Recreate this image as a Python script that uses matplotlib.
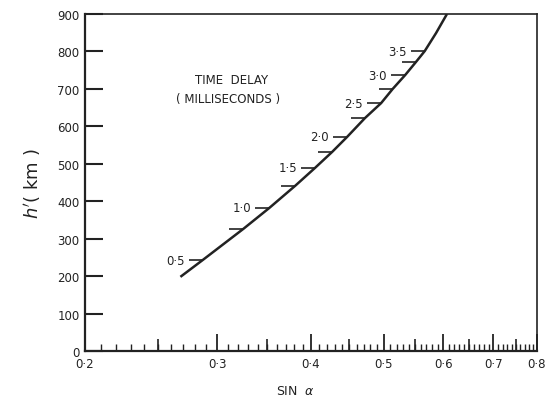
import matplotlib.pyplot as plt
import numpy as np
from matplotlib.path import Path
from matplotlib.ticker import NullFormatter

# curve: sin(alpha) against h' (km)
curve_sin = [0.268, 0.287, 0.325, 0.352, 0.381, 0.405, 0.427, 0.447,
             0.472, 0.496, 0.514, 0.534, 0.552, 0.567, 0.587, 0.607]
curve_h = [198, 243, 326, 382, 441, 489, 532, 572,
           622, 662, 700, 737, 772, 801, 849, 900]

# time delay marks along the curve (milliseconds)
delay_ms = [0.5, 0.75, 1.0, 1.25, 1.5, 1.75, 2.0, 2.25, 2.5, 2.75, 3.0, 3.25, 3.5]
delay_sin = curve_sin[1:14]
delay_h = curve_h[1:14]

x_major = [0.2, 0.3, 0.4, 0.5, 0.6, 0.7, 0.8]
x_labels = ['0\u00b72', '0\u00b73', '0\u00b74', '0\u00b75', '0\u00b76', '0\u00b77', '0\u00b78']
x_mid = [0.25, 0.35, 0.45, 0.55, 0.65, 0.75]
y_major = [0, 100, 200, 300, 400, 500, 600, 700, 800, 900]

ink = '#222222'
plt.rcParams['font.family'] = ['DejaVu Sans']

fig = plt.figure(figsize=(5.49, 4.02), dpi=100)
ax = fig.add_axes([0.1548, 0.1244, 0.8233, 0.8383])

ax.plot(curve_sin, curve_h, color=ink, lw=1.8, solid_capstyle='butt',
        solid_joinstyle='round')

# short dashes on the left of the curve
dash = Path([(-1, 0), (0, 0)], [Path.MOVETO, Path.LINETO])
ax.plot(delay_sin, delay_h, ls='none', marker=dash, markersize=20,
        mew=1.2, color=ink)
for d, x, y in zip(delay_ms, delay_sin, delay_h):
    if d * 2 == int(d * 2):
        ax.annotate(f'{d:.1f}'.replace('.', '\u00b7'), (x, y),
                    xytext=(-13, 0), textcoords='offset points',
                    ha='right', va='center', fontsize=8.5, color=ink)

ax.text(0.325, 0.807, 'TIME  DELAY', transform=ax.transAxes,
        ha='center', va='center', fontsize=8.5, color=ink)
ax.text(0.316, 0.748, '( MILLISECONDS )', transform=ax.transAxes,
        ha='center', va='center', fontsize=8.5, color=ink)

ax.set_xscale('log')
ax.set_xlim(0.2, 0.8)
ax.set_ylim(0, 900)
ax.set_xticks(x_major)
ax.set_xticklabels(x_labels)
ax.set_xticks(np.arange(0.21, 0.8, 0.01), minor=True)
ax.xaxis.set_minor_formatter(NullFormatter())
ax.set_yticks(y_major)
ax.tick_params(axis='x', which='major', direction='in', length=12, width=1.3,
               labelsize=8.5, colors=ink, pad=4)
ax.tick_params(axis='x', which='minor', direction='in', length=5, width=1.0,
               colors=ink)
ax.tick_params(axis='y', which='major', direction='in', length=13, width=1.5,
               labelsize=8.5, colors=ink, pad=4)
ax.tick_params(axis='y', which='minor', left=False)

ax2 = ax.twiny()
ax2.set_xscale('log')
ax2.set_xlim(0.2, 0.8)
ax2.xaxis.set_ticks_position('bottom')
ax2.set_xticks(x_mid)
ax2.set_xticks([], minor=True)
ax2.xaxis.set_major_formatter(NullFormatter())
ax2.xaxis.set_minor_formatter(NullFormatter())
ax2.tick_params(axis='x', which='major', direction='in', length=8.5, width=1.2,
                labelbottom=False, labeltop=False, colors=ink)
for s in ax2.spines.values():
    s.set_visible(False)

for name, s in ax.spines.items():
    s.set_color(ink)
    s.set_linewidth(1.6 if name in ('left', 'bottom') else 1.2)

ax.set_ylabel("$h'$( km )", fontsize=13, color=ink, labelpad=10)
ax.set_xlabel('SIN  $\\alpha$', fontsize=9, color=ink)
ax.xaxis.set_label_coords(0.465, -0.098)

fig.savefig('out.png', dpi=100)
